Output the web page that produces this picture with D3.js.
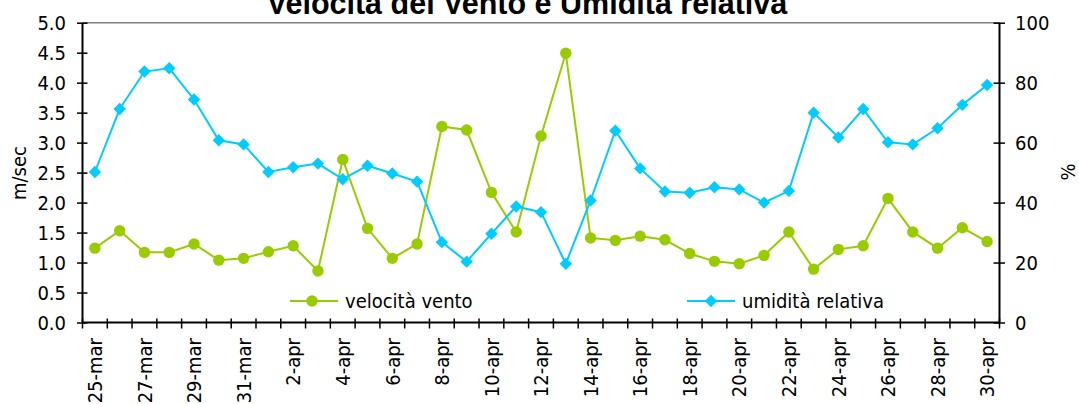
<!DOCTYPE html>
<html>
<head>
<meta charset="utf-8">
<script src="https://cdn.jsdelivr.net/npm/d3@7"></script>
<style>
    body { margin: 0; background: #fff; }
    svg { display: block; }
    .lbl { font-family: "DejaVu Sans Condensed", "DejaVu Sans", sans-serif; font-size: 20px; fill: #000; }
</style>
</head>
<body>
<div class="d3"></div>
<script>
const categories = [
    "25-mar", "26-mar", "27-mar", "28-mar", "29-mar", "30-mar", "31-mar",
    "1-apr", "2-apr", "3-apr", "4-apr", "5-apr", "6-apr", "7-apr", "8-apr", "9-apr", "10-apr",
    "11-apr", "12-apr", "13-apr", "14-apr", "15-apr", "16-apr", "17-apr", "18-apr", "19-apr", "20-apr",
    "21-apr", "22-apr", "23-apr", "24-apr", "25-apr", "26-apr", "27-apr", "28-apr", "29-apr", "30-apr"
];
const windSpeed = [
    1.24, 1.53, 1.17, 1.17, 1.31, 1.04, 1.07,
    1.18, 1.28, 0.86, 2.72, 1.57, 1.07, 1.31, 3.27, 3.21, 2.17,
    1.51, 3.11, 4.49, 1.41, 1.37, 1.44, 1.38, 1.15, 1.02, 0.98,
    1.12, 1.51, 0.89, 1.22, 1.28, 2.07, 1.51, 1.24, 1.58, 1.35
];
const humidity = [
    50.2, 71.2, 83.7, 84.8, 74.4, 60.8, 59.4,
    50.2, 51.8, 53.0, 47.8, 52.3, 49.7, 47.0, 26.8, 20.3, 29.6,
    38.7, 36.8, 19.6, 40.7, 64.0, 51.4, 43.7, 43.3, 45.1, 44.4,
    40.0, 43.9, 70.0, 61.7, 71.2, 60.1, 59.4, 64.8, 72.6, 79.2
];
const xTickLabels = categories.filter((d, i) => i % 2 === 0);
const leftTicks = [0, 0.5, 1, 1.5, 2, 2.5, 3, 3.5, 4, 4.5, 5];
const rightTicks = [0, 20, 40, 60, 80, 100];
const seriesNames = ["velocità vento", "umidità relativa"];
const title = "Velocità del Vento e Umidità relativa";

const width = 1079;
const height = 404;
const plot = { left: 82.5, right: 999.5, top: 22.7, bottom: 322.5 };
const green = "#99cc00";
const blue = "#00ccff";

const svg = d3.select(".d3")
    .append("svg")
    .attr("width", width)
    .attr("height", height);

const x = d3.scaleBand()
    .domain(categories)
    .range([plot.left, plot.right]);
const cx = d => x(d) + x.bandwidth() / 2;

const yL = d3.scaleLinear().domain([0, 5]).range([plot.bottom, plot.top]);
const yR = d3.scaleLinear().domain([0, 100]).range([plot.bottom, plot.top]);

// grey frame line on top of the plot area
svg.append("line")
    .attr("x1", plot.left).attr("x2", plot.right)
    .attr("y1", plot.top).attr("y2", plot.top)
    .attr("stroke", "#808080")
    .attr("stroke-width", 1.5);

// title, partly cut off at the top like the original
svg.append("text")
    .attr("x", 527)
    .attr("y", 13.5)
    .attr("text-anchor", "middle")
    .style("font-family", "'Liberation Sans', Arial, sans-serif")
    .style("font-weight", "bold")
    .style("font-size", "30.5px")
    .text(title);

// left axis
const leftAxis = svg.append("g")
    .attr("transform", `translate(${plot.left},0)`)
    .call(d3.axisLeft(yL).tickValues(leftTicks).tickFormat(d3.format(".1f")).tickSize(5.5).tickPadding(11));
leftAxis.selectAll(".tick line").attr("x1", 5).attr("stroke-width", 1.5);
leftAxis.select(".domain").attr("stroke-width", 2).attr("d", `M0,${plot.top}V${plot.bottom}`);
leftAxis.selectAll("text").attr("class", "lbl").attr("dy", "0.36em");

// right axis
const rightAxis = svg.append("g")
    .attr("transform", `translate(${plot.right},0)`)
    .call(d3.axisRight(yR).tickValues(rightTicks).tickSize(5.5).tickPadding(10));
rightAxis.selectAll(".tick line").attr("x1", -6).attr("stroke-width", 1.5);
rightAxis.select(".domain").attr("stroke-width", 2).attr("d", `M0,${plot.top}V${plot.bottom}`);
rightAxis.selectAll("text").attr("class", "lbl").attr("dy", "0.36em");

// bottom axis: tick marks on category edges, labels on every other day
const edges = categories.map(d => x(d)).concat([plot.right]);
svg.append("line")
    .attr("x1", plot.left).attr("x2", plot.right)
    .attr("y1", plot.bottom).attr("y2", plot.bottom)
    .attr("stroke", "#000")
    .attr("stroke-width", 2);
svg.append("g")
    .selectAll("line")
    .data(edges)
    .join("line")
    .attr("x1", d => d).attr("x2", d => d)
    .attr("y1", plot.bottom - 4).attr("y2", plot.bottom + 6)
    .attr("stroke", "#000")
    .attr("stroke-width", 1.5);

const bottomAxis = svg.append("g")
    .attr("transform", `translate(0,${plot.bottom})`)
    .call(d3.axisBottom(x).tickValues(xTickLabels).tickSize(0));
bottomAxis.select(".domain").remove();
bottomAxis.selectAll("text")
    .attr("class", "lbl")
    .attr("transform", "rotate(-90)")
    .attr("x", -15.5)
    .attr("y", 0)
    .attr("dy", "0.36em")
    .attr("text-anchor", "end");

// axis titles
svg.append("text")
    .attr("class", "lbl")
    .attr("transform", "translate(19,173) rotate(-90)")
    .attr("text-anchor", "middle")
    .attr("dy", "0.36em")
    .text("m/sec");
svg.append("text")
    .attr("class", "lbl")
    .attr("transform", "translate(1068,172) rotate(-90)")
    .attr("text-anchor", "middle")
    .attr("dy", "0.36em")
    .text("%");

const diamond = s => `M0,${-s}L${s},0L0,${s}L${-s},0Z`;

// wind speed
svg.append("path")
    .datum(windSpeed)
    .attr("fill", "none")
    .attr("stroke", green)
    .attr("stroke-width", 2)
    .attr("d", d3.line().x((d, i) => cx(categories[i])).y(d => yL(d)));
svg.append("g")
    .selectAll("circle")
    .data(windSpeed)
    .join("circle")
    .attr("cx", (d, i) => cx(categories[i]))
    .attr("cy", d => yL(d))
    .attr("r", 5.7)
    .attr("fill", green);

// relative humidity
svg.append("path")
    .datum(humidity)
    .attr("fill", "none")
    .attr("stroke", blue)
    .attr("stroke-width", 2)
    .attr("d", d3.line().x((d, i) => cx(categories[i])).y(d => yR(d)));
svg.append("g")
    .selectAll("path")
    .data(humidity)
    .join("path")
    .attr("transform", (d, i) => `translate(${cx(categories[i])},${yR(d)})`)
    .attr("d", diamond(6.2))
    .attr("fill", blue);

// legend
const legend = [
    { name: seriesNames[0], color: green, x: 290, shape: "circle" },
    { name: seriesNames[1], color: blue, x: 687, shape: "diamond" }
];
const lg = svg.append("g")
    .selectAll("g")
    .data(legend)
    .join("g")
    .attr("transform", d => `translate(${d.x},301)`);
lg.append("line")
    .attr("x1", 0).attr("x2", 48)
    .attr("stroke", d => d.color)
    .attr("stroke-width", 2);
lg.filter(d => d.shape === "circle").append("circle")
    .attr("cx", 22).attr("r", 5.7)
    .attr("fill", d => d.color);
lg.filter(d => d.shape === "diamond").append("path")
    .attr("transform", "translate(24,0)")
    .attr("d", diamond(6.2))
    .attr("fill", d => d.color);
lg.append("text")
    .attr("class", "lbl")
    .attr("x", 55)
    .attr("dy", "0.36em")
    .text(d => d.name);
</script>
</body>
</html>
